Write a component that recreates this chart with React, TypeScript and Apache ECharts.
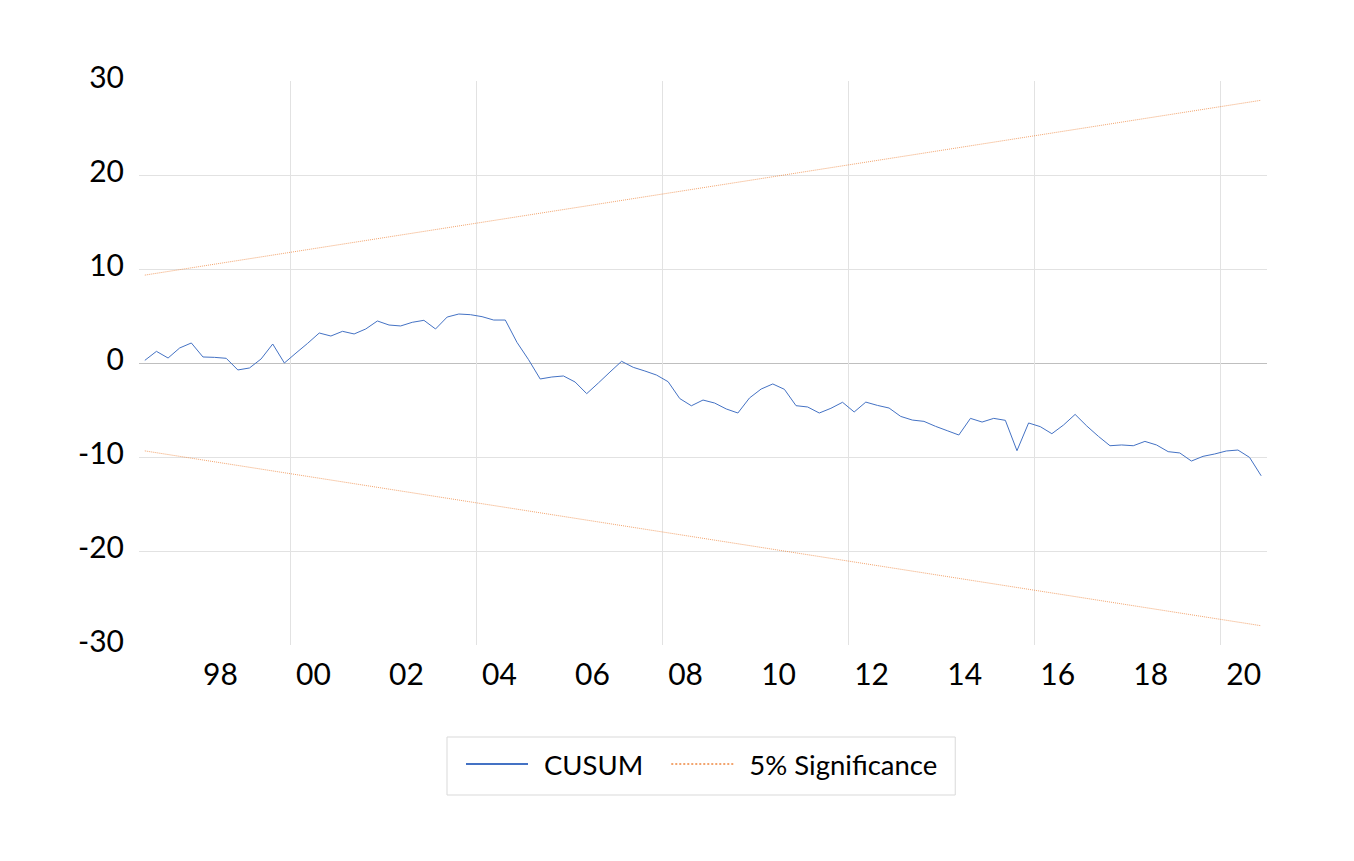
import React, { useEffect, useRef } from "react";
import * as echarts from "echarts";

// Quarterly periods: first observation 1996Q4, last 2020Q4
const startYear = 1996;
const startQuarter = 4;

// CUSUM values
const cusum = [
  0.28, 1.24, 0.53, 1.6, 2.13, 0.64, 0.6, 0.5, -0.74, -0.53, 0.43, 2.02, 0.0,
  1.06, 2.09, 3.19,
  2.87, 3.37, 3.09, 3.62, 4.47, 4.04, 3.94, 4.33, 4.54, 3.62, 4.89, 5.21, 5.14, 4.93, 4.57, 4.57,
  2.2, 0.35, -1.7, -1.49, -1.38, -2.02, -3.26, -2.13, -0.96, 0.18, -0.46, -0.85, -1.28, -1.99, -3.78, -4.55,
  -3.94, -4.26, -4.89, -5.32, -3.72, -2.77, -2.23, -2.8, -4.54, -4.68, -5.32, -4.82, -4.18, -5.21, -4.16, -4.51,
  -4.79, -5.68, -6.07, -6.21, -6.74, -7.2, -7.66, -5.89, -6.28, -5.89, -6.1, -9.33, -6.38, -6.77, -7.52, -6.6,
  -5.47, -6.7, -7.8, -8.8, -8.72, -8.8, -8.34, -8.72, -9.43, -9.57, -10.43, -9.93, -9.68, -9.36, -9.26, -10.04, -12.0,
];

// 5% significance bounds (straight lines), end points
const sigPeriods = ["1996Q4", "2020Q4"];
const sigUpper = [9.35, 27.95];
const sigLower = [-9.35, -27.95];

// Axis ticks
const gridYears = [2000, 2004, 2008, 2012, 2016, 2020];
const labelYears = [1998, 2000, 2002, 2004, 2006, 2008, 2010, 2012, 2014, 2016, 2018, 2020];
const tickLabels = ["98", "00", "02", "04", "06", "08", "10", "12", "14", "16", "18", "20"];
const yTicks = [-30, -20, -10, 0, 10, 20, 30];

const periodToX = (p: string) => {
  const y = parseInt(p.slice(0, 4), 10);
  const q = parseInt(p.slice(5), 10);
  return y + (q - 1) / 4 + 0.125;
};

const periods: string[] = cusum.map((_, i) => {
  const idx = startQuarter - 1 + i;
  return `${startYear + Math.floor(idx / 4)}Q${(idx % 4) + 1}`;
});

const FONT = "Lato";

export default function App() {
  const ref = useRef<HTMLDivElement>(null);
  useEffect(() => {
    if (!ref.current) return;
    const chart = echarts.init(ref.current, undefined, { renderer: "svg" });
    const labelPos = labelYears.map((y) => y + 0.5);
    const labelMap: Record<string, string> = {};
    labelPos.forEach((v, i) => (labelMap[String(v)] = tickLabels[i]));
    const lineCols = yTicks.map((v) =>
      v === 0 ? "#bfbfbf" : Math.abs(v) === 30 ? "rgba(0,0,0,0)" : "#e2e2e2"
    );
    chart.setOption({
      animation: false,
      backgroundColor: "#ffffff",
      textStyle: { fontFamily: FONT },
      grid: { left: 139, right: 87, top: 81, bottom: 216, containLabel: false },
      legend: {
        left: 447,
        top: 737,
        padding: [13, 18, 17, 18],
        borderColor: "#d9d9d9",
        borderWidth: 1,
        itemWidth: 62,
        itemHeight: 30,
        itemGap: 27,
        selectedMode: false,
        itemStyle: { opacity: 0 },
        textStyle: { fontFamily: FONT, fontSize: 27.5, color: "#000", padding: [0, 0, 0, 11] },
        data: ["CUSUM", "5% Significance"],
      },
      xAxis: {
        type: "value",
        min: 1996.75,
        max: 2021,
        axisLine: { show: false },
        axisTick: { show: false, customValues: gridYears },
        splitLine: { show: true, lineStyle: { color: "#e2e2e2", width: 1 } },
        axisLabel: {
          customValues: labelPos,
          formatter: (v: number) => labelMap[String(v)] ?? "",
          fontFamily: FONT,
          fontSize: 30,
          color: "#000",
          margin: 13,
        },
      },
      yAxis: {
        type: "value",
        min: -30,
        max: 30,
        interval: 10,
        axisLine: { show: false },
        axisTick: { show: false },
        splitLine: { show: true, lineStyle: { color: lineCols, width: 1 } },
        axisLabel: {
          fontFamily: FONT,
          fontSize: 30,
          color: "#000",
          margin: 15,
          verticalAlign: "bottom",
          lineHeight: 11,
        },
      },
      series: [
        {
          name: "CUSUM",
          type: "line",
          symbol: "none",
          data: cusum.map((v, i) => [periodToX(periods[i]), v]),
          lineStyle: { color: "#4472C4", width: 1 },
          itemStyle: { color: "#4472C4" },
          z: 3,
        },
        {
          name: "5% Significance",
          type: "line",
          symbol: "none",
          data: sigPeriods.map((p, i) => [periodToX(p), sigUpper[i]]),
          lineStyle: { color: "#ED7D31", width: 1, type: "dotted", opacity: 0.7 },
          itemStyle: { color: "#ED7D31" },
          z: 2,
        },
        {
          name: "5% Significance",
          type: "line",
          symbol: "none",
          data: sigPeriods.map((p, i) => [periodToX(p), sigLower[i]]),
          lineStyle: { color: "#ED7D31", width: 1, type: "dotted", opacity: 0.7 },
          itemStyle: { color: "#ED7D31" },
          z: 2,
        },
      ],
    });
    return () => chart.dispose();
  }, []);
  return (
    <div
      ref={ref}
      style={{ position: "absolute", left: 0, top: 0, width: 1354, height: 861, background: "#fff" }}
    />
  );
}
